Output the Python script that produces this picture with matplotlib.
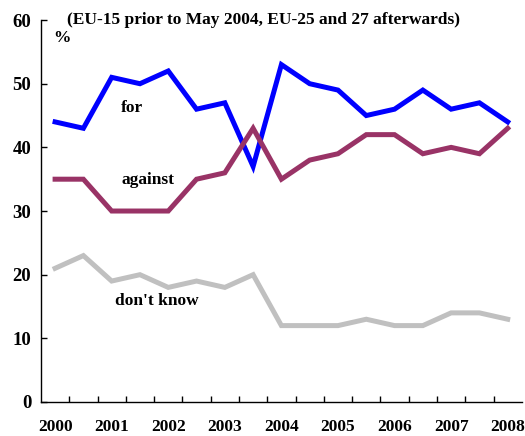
import matplotlib.pyplot as plt

# half-yearly survey waves, 2000 .. 2008
labels = ["2000", "", "2001", "", "2002", "", "2003", "", "2004", "",
          "2005", "", "2006", "", "2007", "", "2008"]
pct_for = [44, 43, 51, 50, 52, 46, 47, 37, 53, 50, 49, 45, 46, 49, 46, 47, 44]
pct_against = [35, 35, 30, 30, 30, 35, 36, 43, 35, 38, 39, 42, 42, 39, 40, 39, 43]
pct_dont_know = [21, 23, 19, 20, 18, 19, 18, 20, 12, 12, 12, 13, 12, 12, 14, 14, 13]

plt.rcParams["font.family"] = ["Liberation Serif", "DejaVu Serif"]
plt.rcParams["font.weight"] = "bold"

fig = plt.figure(figsize=(5.25, 4.36), dpi=100)
ax = fig.add_axes([0.078, 0.078, 0.916, 0.876])

x = list(range(len(labels)))
ax.plot(x, pct_for, color="#0000FF", lw=3.6, solid_joinstyle="miter")
ax.plot(x, pct_against, color="#993366", lw=3.6, solid_joinstyle="miter")
ax.plot(x, pct_dont_know, color="#C0C0C0", lw=3.6, solid_joinstyle="miter")

ax.set_xlim(-0.5, len(labels) - 0.5)
ax.set_ylim(0, 60)
ax.set_yticks(range(0, 61, 10))
ax.set_xticks(x)
ax.set_xticklabels(labels, fontsize=12.5, fontweight="bold")
ax.set_xticks([i + 0.5 for i in x[:-1]], minor=True)
ax.tick_params(axis="x", which="major", length=0, pad=12)
ax.tick_params(axis="x", which="minor", direction="in", length=4, width=1)
ax.tick_params(axis="y", direction="in", length=4, width=1, labelsize=13.5, pad=7)
for t in ax.get_yticklabels():
    t.set_fontweight("bold")

for side in ("top", "right"):
    ax.spines[side].set_visible(False)
for side in ("left", "bottom"):
    ax.spines[side].set_linewidth(1)

ax.text(0.055, 1.0, "(EU-15 prior to May 2004, EU-25 and 27 afterwards)",
        transform=ax.transAxes, fontsize=12.5, fontweight="bold", va="center")
ax.text(0.025, 0.952, "%", transform=ax.transAxes, fontsize=12.5,
        fontweight="bold", va="center")
ax.text(2.7, 46.2, "for", fontsize=12.5, fontweight="bold", va="center", ha="center")
ax.text(3.3, 34.8, "against", fontsize=12.5, fontweight="bold", va="center", ha="center")
ax.text(3.6, 15.9, "don't know", fontsize=12.5, fontweight="bold", va="center", ha="center")

fig.savefig("out.png", dpi=100)
